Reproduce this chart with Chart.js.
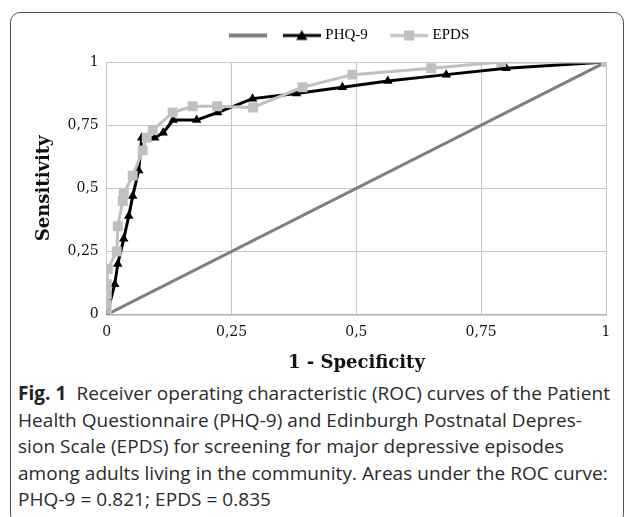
<!DOCTYPE html>
<html>
<head>
<meta charset="utf-8">
<script src="https://cdn.jsdelivr.net/npm/chart.js@4"></script>
<style>
  body { margin: 0; background: #fff; width: 630px; height: 517px; overflow: hidden; position: relative; }
  .frame { position: absolute; left: 10px; top: 12px; width: 612px; height: 510px; border: 1.5px solid #555; border-radius: 10px; }
  .chart { position: absolute; left: 0; top: 0; width: 630px; height: 375px; }
  .caption { position: absolute; left: 18px; top: 380px; width: 610px; font-family: "Open Sans", sans-serif; font-size: 19px; line-height: 26.5px; color: #2a2a2a; letter-spacing: 0.05px; white-space: nowrap; }
  .caption b { color: #222; }
</style>
</head>
<body>
<div class="frame"></div>
<div class="chart"><canvas id="roc"></canvas></div>
<div class="caption">
<b>Fig. 1</b>&nbsp; Receiver operating characteristic (ROC) curves of the Patient<br>
Health Questionnaire (PHQ-9) and Edinburgh Postnatal Depres-<br>
sion Scale (EPDS) for screening for major depressive episodes<br>
among adults living in the community. Areas under the ROC curve:<br>
PHQ-9 = 0.821; EPDS = 0.835
</div>
<script>
// 1 - specificity / sensitivity
const refX = [0, 1];
const refY = [0, 1];

const phqX = [0, 0.016, 0.022, 0.034, 0.044, 0.052, 0.064, 0.07, 0.096, 0.113, 0.133, 0.18, 0.222, 0.292, 0.38, 0.472, 0.563, 0.68, 0.80, 1];
const phqY = [0, 0.12, 0.2, 0.3, 0.39, 0.47, 0.57, 0.70, 0.70, 0.72, 0.77, 0.77, 0.80, 0.855, 0.875, 0.90, 0.925, 0.95, 0.975, 1];

const epdsX = [0, 0, 0, 0, 0.002, 0.02, 0.022, 0.032, 0.034, 0.052, 0.072, 0.08, 0.092, 0.132, 0.172, 0.221, 0.293, 0.392, 0.492, 0.65, 0.79, 1];
const epdsY = [0, 0.04, 0.08, 0.12, 0.18, 0.25, 0.35, 0.45, 0.48, 0.55, 0.65, 0.70, 0.73, 0.80, 0.825, 0.825, 0.82, 0.90, 0.95, 0.975, 1, 1];

const tickValues = [0, 0.25, 0.5, 0.75, 1];
const tickLabels = ['0', '0,25', '0,5', '0,75', '1'];

const seriesNames = ['', 'PHQ-9', 'EPDS'];

const toPoints = (xs, ys) => xs.map((x, i) => ({ x: x, y: ys[i] }));

// small line + marker picture for the legend entries
function legendIcon(color, marker) {
    const c = document.createElement('canvas');
    c.width = 38;
    c.height = 14;
    const g = c.getContext('2d');
    g.strokeStyle = color;
    g.lineWidth = marker ? 3 : 4;
    g.beginPath();
    g.moveTo(0, 7);
    g.lineTo(38, 7);
    g.stroke();
    g.fillStyle = color;
    if (marker === 'triangle') {
        g.beginPath();
        g.moveTo(19, 1.5);
        g.lineTo(24.5, 11.5);
        g.lineTo(13.5, 11.5);
        g.closePath();
        g.fill();
    } else if (marker === 'rect') {
        g.fillRect(14, 2, 10, 10);
    }
    return c;
}

// leave some room between the legend and the plot
const legendGap = {
    id: 'legendGap',
    beforeInit(chart) {
        const fit = chart.legend.fit;
        chart.legend.fit = function () {
            fit.bind(chart.legend)();
            this.height += 9;
        };
    }
};

const serif = '"DejaVu Serif", "Liberation Serif", serif';

const ctx = document.getElementById('roc').getContext('2d');
new Chart(ctx, {
    type: 'scatter',
    data: {
        datasets: [
            {
                label: seriesNames[0],
                data: toPoints(refX, refY),
                showLine: true,
                borderColor: '#7f7f7f',
                borderWidth: 3,
                pointRadius: 0,
                order: 2,
                icon: legendIcon('#7f7f7f', null)
            },
            {
                label: seriesNames[1],
                data: toPoints(phqX, phqY),
                showLine: true,
                borderColor: '#000',
                backgroundColor: '#000',
                borderWidth: 3,
                pointStyle: 'triangle',
                pointRadius: 5.5,
                pointBorderWidth: 0,
                order: 1,
                icon: legendIcon('#000', 'triangle')
            },
            {
                label: seriesNames[2],
                data: toPoints(epdsX, epdsY),
                showLine: true,
                borderColor: '#c0c0c0',
                backgroundColor: '#c0c0c0',
                borderWidth: 3,
                pointStyle: 'rect',
                pointRadius: 7,
                pointBorderWidth: 0,
                order: 0,
                icon: legendIcon('#c0c0c0', 'rect')
            }
        ]
    },
    plugins: [legendGap],
    options: {
        responsive: true,
        maintainAspectRatio: false,
        animation: false,
        layout: {
            padding: { left: 34, right: 24, top: 14, bottom: 1 }
        },
        plugins: {
            tooltip: { enabled: false },
            legend: {
                position: 'top',
                fullSize: false,
                labels: {
                    usePointStyle: true,
                    pointStyleWidth: 32,
                    padding: 14,
                    color: '#111',
                    font: { family: '"Liberation Serif", serif', size: 15 },
                    generateLabels(chart) {
                        return chart.data.datasets.map((ds, i) => ({
                            text: ds.label ? ds.label + '   ' : '',
                            pointStyle: ds.icon,
                            fillStyle: ds.borderColor,
                            strokeStyle: ds.borderColor,
                            lineWidth: 0,
                            hidden: false,
                            datasetIndex: i
                        }));
                    }
                }
            }
        },
        scales: {
            x: {
                type: 'linear',
                min: 0,
                max: 1,
                afterBuildTicks(scale) {
                    scale.ticks = tickValues.map(v => ({ value: v }));
                },
                ticks: {
                    callback: (v) => tickLabels[tickValues.indexOf(v)],
                    color: '#111',
                    font: { family: serif, size: 14 },
                    maxRotation: 0,
                    padding: 9
                },
                grid: { color: '#c6c6c6', lineWidth: 1, drawTicks: false },
                border: { color: '#b0b0b0', width: 1.5 },
                title: {
                    display: true,
                    text: '1 - Specificity',
                    color: '#111',
                    font: { family: serif, size: 18, weight: 'bold' },
                    padding: { top: 3, bottom: 0 }
                }
            },
            y: {
                type: 'linear',
                min: 0,
                max: 1,
                afterBuildTicks(scale) {
                    scale.ticks = tickValues.map(v => ({ value: v }));
                },
                ticks: {
                    callback: (v) => tickLabels[tickValues.indexOf(v)],
                    color: '#111',
                    font: { family: serif, size: 14 },
                    padding: 8
                },
                grid: { color: '#c6c6c6', lineWidth: 1, drawTicks: false },
                border: { color: '#c6c6c6', width: 1 },
                title: {
                    display: true,
                    text: 'Sensitivity',
                    color: '#111',
                    font: { family: serif, size: 18, weight: 'bold' },
                    padding: { top: 0, bottom: 4 }
                }
            }
        }
    }
});
</script>
</body>
</html>
